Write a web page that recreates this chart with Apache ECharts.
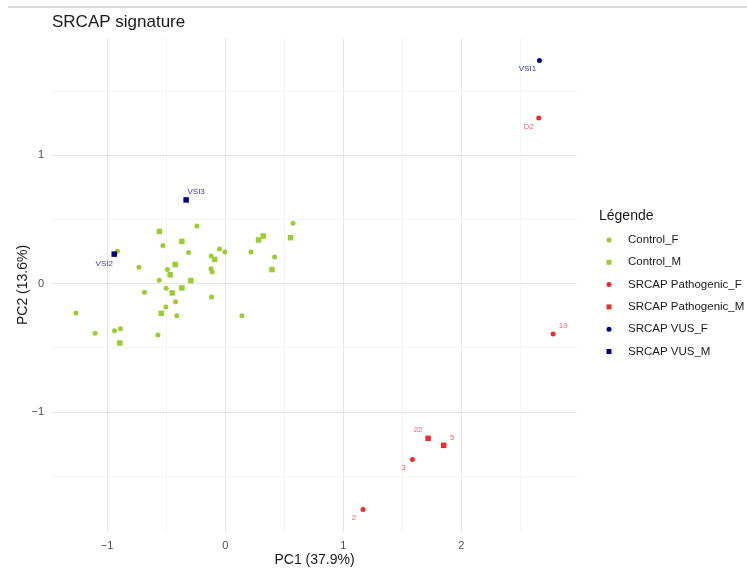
<!DOCTYPE html>
<html>
<head>
<meta charset="utf-8">
<script src="https://cdn.jsdelivr.net/npm/echarts@6/dist/echarts.min.js"></script>
<style>
html,body{margin:0;padding:0;background:#fff;}
#chart{width:747px;height:569px;}
</style>
</head>
<body>
<div id="chart"></div>
<script>
// ---- data ----
const titleText = 'SRCAP signature';
const xName = 'PC1 (37.9%)';
const yName = 'PC2 (13.6%)';
const legendTitle = 'Légende';
const seriesNames = ['Control_F','Control_M','SRCAP Pathogenic_F','SRCAP Pathogenic_M','SRCAP VUS_F','SRCAP VUS_M'];
const xTicks = [-1, 0, 1, 2];
const xMinor = [-0.5, 0.5, 1.5, 2.5];
const yTicks = [-1, 0, 1];
const yMinor = [-1.5, -0.5, 0.5, 1.5];

const controlF = [
  [-0.913, 0.252], [-0.528, 0.297], [-0.731, 0.127], [-0.489, 0.109], [-0.559, 0.026],
  [-0.684, -0.068], [-0.500, -0.037], [-0.421, -0.141], [-0.503, -0.182], [-0.410, -0.250],
  [-1.265, -0.229], [-1.102, -0.388], [-0.938, -0.367], [-0.887, -0.352], [-0.570, -0.401],
  [-0.240, 0.448], [-0.311, 0.242], [-0.048, 0.268], [-0.003, 0.245], [-0.119, 0.214],
  [-0.121, 0.115], [-0.110, 0.089], [-0.116, -0.104], [0.141, -0.250], [0.218, 0.245],
  [0.418, 0.206], [0.574, 0.469]
];
const controlM = [
  [-0.557, 0.406], [-0.367, 0.328], [-0.424, 0.148], [-0.466, 0.068], [-0.449, -0.073],
  [-0.542, -0.232], [-0.893, -0.463], [-0.291, 0.023], [-0.367, -0.034], [-0.090, 0.188],
  [0.282, 0.339], [0.322, 0.370], [0.396, 0.109], [0.553, 0.357]
];
const pathoF = [[1.167, -1.760], [1.585, -1.370], [2.777, -0.393], [2.655, 1.289]];
const pathoFLabels = ['2', '3', '19', 'D2'];
const pathoM = [[1.718, -1.206], [1.850, -1.260]];
const pathoMLabels = ['22', '5'];
const vusF = [[2.661, 1.737]];
const vusFLabels = ['VSI1'];
const vusM = [[-0.940, 0.229], [-0.331, 0.651]];
const vusMLabels = ['VSI2', 'VSI3'];

// ---- styles ----
const GREEN = '#9ACD32', RED = '#EE2C2C', NAVY = '#00008B';
const labelOffsets = {
  '2': [-9, 8.5], '3': [-9, 8.5], '19': [10, -8.5], 'D2': [-10, 9],
  '22': [-10, -8.5], '5': [8.5, -8], 'VSI1': [-12, 8.5], 'VSI2': [-10, 9.5], 'VSI3': [10, -8.5]
};
const FONT = '"Liberation Sans", Arial, sans-serif';

function labelled(points, labels, labelColor) {
  return points.map((p, i) => ({
    value: p,
    name: labels[i],
    label: {
      show: true, formatter: labels[i], position: 'inside',
      offset: labelOffsets[labels[i]], color: labelColor,
      fontSize: 8, fontFamily: FONT, align: 'center', verticalAlign: 'middle'
    }
  }));
}

const minusFmt = v => (v < 0 ? '\u2212' + Math.abs(v) : String(v));

const gridLines = [];
xTicks.forEach(v => gridLines.push({ xAxis: v, lineStyle: { color: '#e6e6e6', width: 1.1, type: 'solid' } }));
xMinor.forEach(v => gridLines.push({ xAxis: v, lineStyle: { color: '#f1f1f1', width: 0.8, type: 'solid' } }));
yTicks.forEach(v => gridLines.push({ yAxis: v, lineStyle: { color: '#e6e6e6', width: 1.1, type: 'solid' } }));
yMinor.forEach(v => gridLines.push({ yAxis: v, lineStyle: { color: '#f1f1f1', width: 0.8, type: 'solid' } }));

const chart = echarts.init(document.getElementById('chart'), null, { renderer: 'canvas' });
chart.setOption({
  animation: false,
  backgroundColor: '#fff',
  textStyle: { fontFamily: FONT },
  title: [
    { text: titleText, left: 52, top: 14, padding: 0, textStyle: { fontSize: 17, fontWeight: 'normal', color: '#1a1a1a', fontFamily: FONT } },
    { text: legendTitle, left: 599, top: 209, padding: 0, textStyle: { fontSize: 14, fontWeight: 'normal', color: '#1a1a1a', fontFamily: FONT } }
  ],
  graphic: [
    { type: 'line', shape: { x1: 8, y1: 7, x2: 747, y2: 7 }, style: { stroke: '#d9d9d9', lineWidth: 2 } }
  ],
  legend: {
    orient: 'vertical', left: 606.5, top: 234, padding: 0,
    itemWidth: 5, itemHeight: 5, itemGap: 10.3,
    data: seriesNames.map((n, i) => ({ name: n, icon: i % 2 === 0 ? 'circle' : 'rect' })),
    textStyle: { fontSize: 11.5, color: '#1a1a1a', fontFamily: FONT, padding: [0, 0, 0, 11.5] }
  },
  grid: { left: 52, right: 170, top: 38, bottom: 37, containLabel: false, outerBoundsMode: 'none' },
  xAxis: {
    type: 'value', min: -1.467, max: 2.979,
    name: xName, nameLocation: 'middle', nameGap: 21, nameMoveOverlap: false,
    nameTextStyle: { fontSize: 14, color: '#1a1a1a', fontFamily: FONT },
    axisLine: { show: false }, axisTick: { show: false }, splitLine: { show: false },
    axisLabel: { customValues: xTicks, formatter: minusFmt, fontSize: 11, color: '#4d4d4d', margin: 8, fontFamily: FONT }
  },
  yAxis: {
    type: 'value', min: -1.935, max: 1.912,
    name: yName, nameLocation: 'middle', nameGap: 22, nameRotate: 90, nameMoveOverlap: false,
    nameTextStyle: { fontSize: 14, color: '#1a1a1a', fontFamily: FONT },
    axisLine: { show: false }, axisTick: { show: false }, splitLine: { show: false },
    axisLabel: { customValues: yTicks, formatter: minusFmt, fontSize: 11, color: '#4d4d4d', margin: 8, fontFamily: FONT }
  },
  series: [
    { name: seriesNames[0], type: 'scatter', symbol: 'circle', symbolSize: 5, itemStyle: { color: GREEN, opacity: 1 }, data: controlF, z: 3,
      markLine: { silent: true, symbol: 'none', label: { show: false }, z: 1, data: gridLines, animation: false } },
    { name: seriesNames[1], type: 'scatter', symbol: 'rect', symbolSize: 5.5, itemStyle: { color: GREEN, opacity: 1 }, data: controlM, z: 3 },
    { name: seriesNames[2], type: 'scatter', symbol: 'circle', symbolSize: 5, itemStyle: { color: RED, opacity: 1 }, data: labelled(pathoF, pathoFLabels, '#ec6b6b'), z: 3 },
    { name: seriesNames[3], type: 'scatter', symbol: 'rect', symbolSize: 5.5, itemStyle: { color: RED, opacity: 1 }, data: labelled(pathoM, pathoMLabels, '#ec6b6b'), z: 3 },
    { name: seriesNames[4], type: 'scatter', symbol: 'circle', symbolSize: 5, itemStyle: { color: NAVY, opacity: 1 }, data: labelled(vusF, vusFLabels, '#3d3d94'), z: 3 },
    { name: seriesNames[5], type: 'scatter', symbol: 'rect', symbolSize: 5.5, itemStyle: { color: NAVY, opacity: 1 }, data: labelled(vusM, vusMLabels, '#3d3d94'), z: 3 }
  ]
});
</script>
</body>
</html>
